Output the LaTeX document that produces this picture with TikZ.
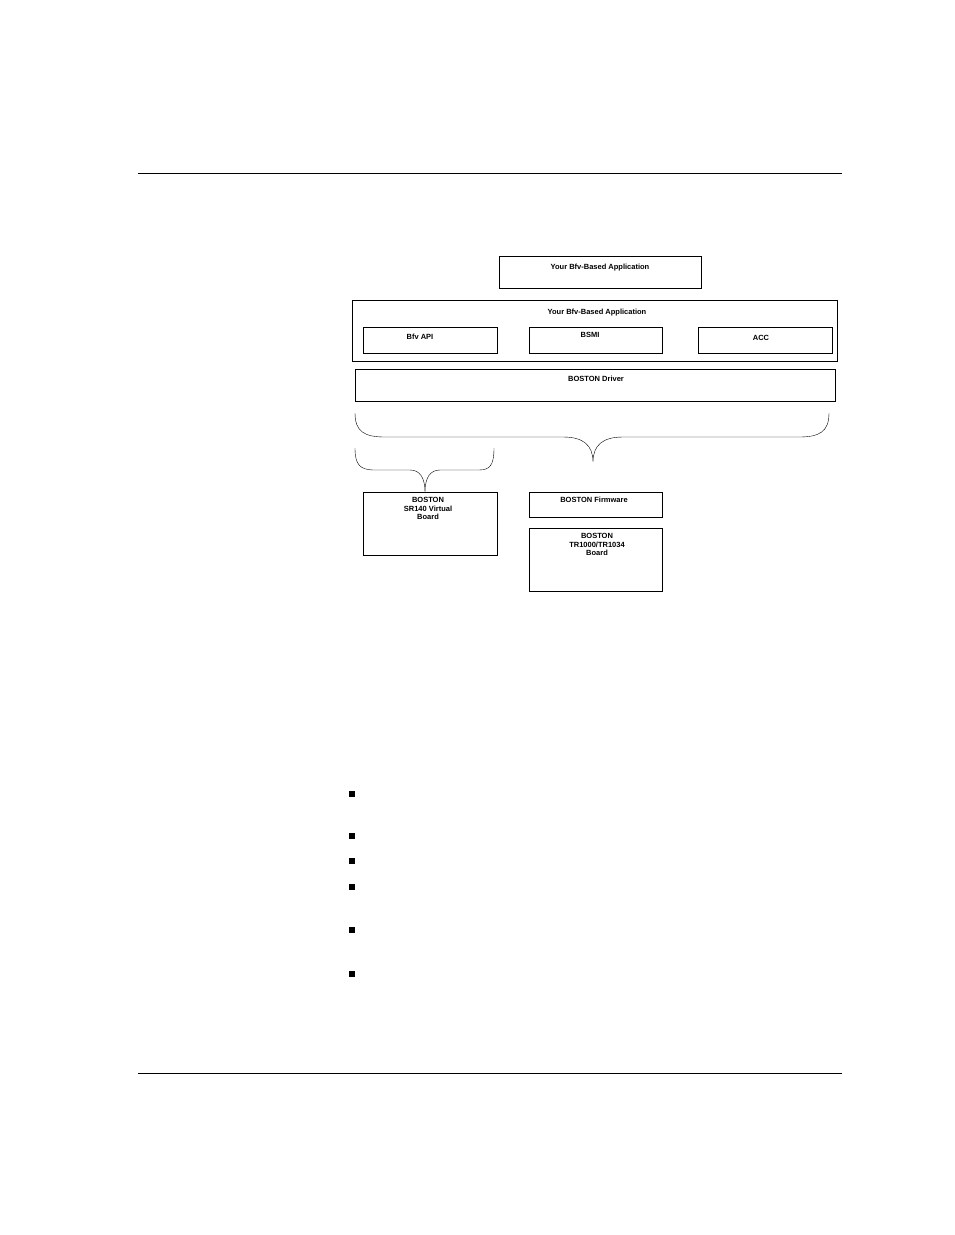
\documentclass[tikz,border=0pt]{standalone}
\usepackage{fontspec}
\setmainfont{Liberation Sans}
\begin{document}
\begin{tikzpicture}[x=1pt,y=-1pt,
    lbl/.style={font=\bfseries\fontsize{7.5}{8.5}\selectfont,align=center,anchor=north},
    bullet/.style={fill=black,minimum size=6.5pt,inner sep=0pt}]

    % page
    \useasboundingbox[fill=white] (0,0) rectangle (954,1235);
    \draw (138,173) -- (842,173);
    \draw (138,1073) -- (842,1073);

    % top application
    \draw (499,256) rectangle (701,288);
    \node[lbl] (apptop) at (600,261) {Your Bfv-Based Application};

    % application layer
    \draw (352,300) rectangle (837,361);
    \node[lbl] (app) at (597,306) {Your Bfv-Based Application};
    \draw (363,327) rectangle (497,353);
    \node[lbl] (api) at (420,331) {Bfv API};
    \draw (529,327) rectangle (662,353);
    \node[lbl] (bsmi) at (590,329) {BSMI};
    \draw (698,327) rectangle (832,353);
    \node[lbl] (acc) at (761,332) {ACC};

    % driver
    \draw (355,369) rectangle (835,401);
    \node[lbl] (drv) at (596,373) {BOSTON Driver};

    % braces
    \draw (355,413) .. controls (355,432) and (365,437) .. (385,437) -- (563,437)
        .. controls (583,437) and (593,445) .. (593,462)
        .. controls (593,445) and (603,437) .. (623,437) -- (799,437)
        .. controls (819,437) and (829,432) .. (829,413);
    \draw (355,448) .. controls (355,465) and (360,470) .. (375,470) -- (410,470)
        .. controls (420,470) and (425,478) .. (425,492)
        .. controls (425,478) and (430,470) .. (440,470) -- (479,470)
        .. controls (490,470) and (494,465) .. (494,448);

    % boards
    \draw (363,492) rectangle (497,555);
    \node[lbl] (sr) at (428,494) {BOSTON\\SR140 Virtual\\Board};
    \draw (529,492) rectangle (662,517);
    \node[lbl] (fw) at (594,494) {BOSTON Firmware};
    \draw (529,528) rectangle (662,591);
    \node[lbl] (tr) at (597,530) {BOSTON\\TR1000/TR1034\\Board};

    % bullets
    \foreach \y in {794,836,861,887,930,974}
        \node[bullet] at (352,\y) {};
\end{tikzpicture}
\end{document}
